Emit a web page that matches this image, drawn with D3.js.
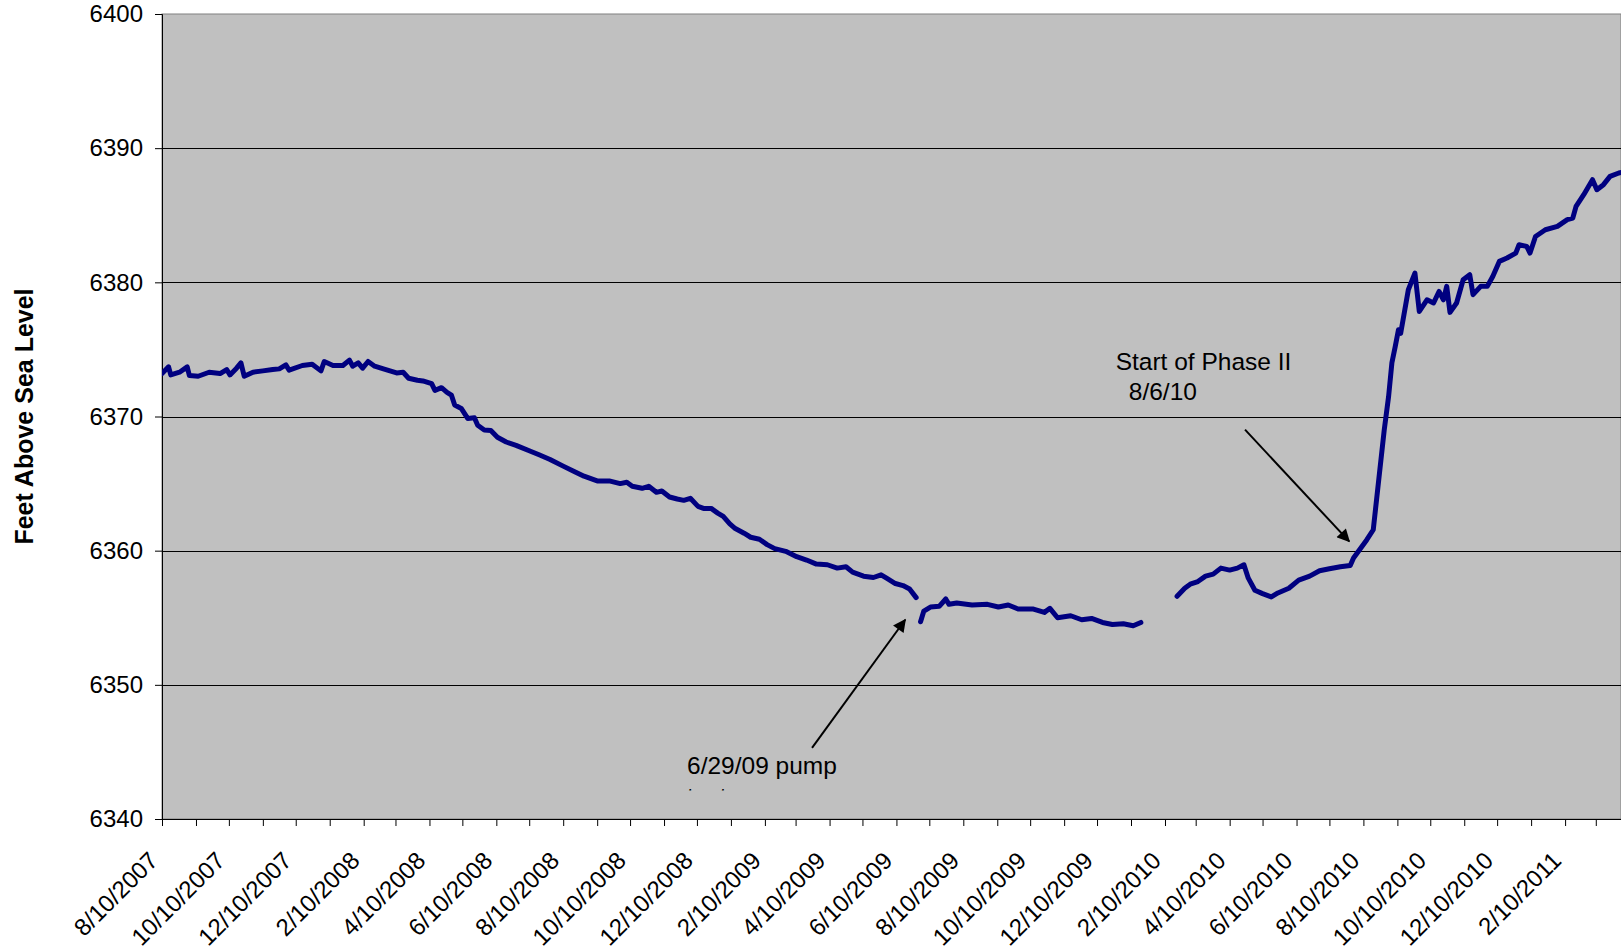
<!DOCTYPE html>
<html>
<head>
<meta charset="utf-8">
<script src="https://cdn.jsdelivr.net/npm/d3@7"></script>
<style>
    body { margin: 0; background: #ffffff; }
    svg { display: block; font-family: "Liberation Sans", Arial, sans-serif; }
</style>
</head>
<body>
<div id="chart"></div>
<script>
// water level readings, null = no data (gaps in the record)
const readingDates = [
    "2007-08-10", "2007-08-16", "2007-08-18", "2007-08-26", "2007-09-02", "2007-09-04",
    "2007-09-12", "2007-09-22", "2007-10-02", "2007-10-08", "2007-10-11", "2007-10-17",
    "2007-10-21", "2007-10-24", "2007-11-01", "2007-11-10", "2007-11-19", "2007-11-25",
    "2007-12-01", "2007-12-04", "2007-12-16", "2007-12-25", "2008-01-02", "2008-01-05",
    "2008-01-13", "2008-01-22", "2008-01-28", "2008-01-31", "2008-02-05", "2008-02-09",
    "2008-02-14", "2008-02-20", "2008-02-28", "2008-03-05", "2008-03-11", "2008-03-17",
    "2008-03-22", "2008-03-30", "2008-04-04", "2008-04-12", "2008-04-15", "2008-04-21",
    "2008-04-26", "2008-04-30", "2008-05-03", "2008-05-09", "2008-05-15", "2008-05-21",
    "2008-05-24", "2008-05-30", "2008-06-05", "2008-06-11", "2008-06-19", "2008-06-28",
    "2008-07-10", "2008-07-19", "2008-07-29", "2008-08-10", "2008-08-20", "2008-08-29",
    "2008-09-10", "2008-09-21", "2008-10-01", "2008-10-07", "2008-10-12", "2008-10-21",
    "2008-10-27", "2008-11-03", "2008-11-08", "2008-11-15", "2008-11-22", "2008-11-28",
    "2008-12-04", "2008-12-11", "2008-12-16", "2008-12-23", "2008-12-29", "2009-01-03",
    "2009-01-09", "2009-01-14", "2009-01-22", "2009-01-28", "2009-02-05", "2009-02-12",
    "2009-02-19", "2009-03-01", "2009-03-11", "2009-03-20", "2009-03-29", "2009-04-08",
    "2009-04-17", "2009-04-25", "2009-05-01", "2009-05-11", "2009-05-20", "2009-05-27",
    "2009-06-01", "2009-06-09", "2009-06-16", "2009-06-22", "2009-06-28", "2009-06-30",
    "2009-07-02", "2009-07-05", "2009-07-11", "2009-07-19", "2009-07-25", "2009-07-28",
    "2009-08-04", "2009-08-18", "2009-09-01", "2009-09-11", "2009-09-20", "2009-09-29",
    "2009-10-13", "2009-10-23", "2009-10-28", "2009-11-04", "2009-11-16", "2009-11-26",
    "2009-12-05", "2009-12-15", "2009-12-24", "2010-01-03", "2010-01-12", "2010-01-19",
    "2010-02-01", "2010-02-21", "2010-02-28", "2010-03-05", "2010-03-12", "2010-03-19",
    "2010-03-26", "2010-04-02", "2010-04-10", "2010-04-17", "2010-04-23", "2010-04-27",
    "2010-05-03", "2010-05-10", "2010-05-18", "2010-05-24", "2010-06-03", "2010-06-12",
    "2010-06-22", "2010-07-01", "2010-07-10", "2010-07-20", "2010-07-29", "2010-08-01",
    "2010-08-13", "2010-08-19", "2010-08-24", "2010-08-29", "2010-09-02", "2010-09-05",
    "2010-09-08", "2010-09-11", "2010-09-13", "2010-09-20", "2010-09-26", "2010-09-30",
    "2010-10-07", "2010-10-13", "2010-10-18", "2010-10-22", "2010-10-25", "2010-10-28",
    "2010-11-03", "2010-11-09", "2010-11-15", "2010-11-18", "2010-11-25", "2010-12-01",
    "2010-12-06", "2010-12-12", "2010-12-19", "2010-12-27", "2010-12-30", "2011-01-06",
    "2011-01-09", "2011-01-14", "2011-01-23", "2011-02-03", "2011-02-12", "2011-02-17",
    "2011-02-20", "2011-02-27", "2011-03-07", "2011-03-11", "2011-03-17", "2011-03-23",
    "2011-03-31", "2011-04-03"
];
const levels = [
    6373.2, 6373.7, 6373.1, 6373.3, 6373.7, 6373.05,
    6373.0, 6373.3, 6373.2, 6373.5, 6373.1, 6373.6,
    6374.0, 6373.0, 6373.3, 6373.4, 6373.5, 6373.55,
    6373.85, 6373.45, 6373.8, 6373.9, 6373.4, 6374.1,
    6373.8, 6373.8, 6374.2, 6373.75, 6374.0, 6373.6,
    6374.1, 6373.75, 6373.55, 6373.4, 6373.25, 6373.3,
    6372.85, 6372.7, 6372.65, 6372.45, 6371.95, 6372.15,
    6371.8, 6371.6, 6370.85, 6370.6, 6369.85, 6369.9,
    6369.35, 6369.0, 6368.95, 6368.45, 6368.1, 6367.85,
    6367.45, 6367.15, 6366.8, 6366.3, 6365.9, 6365.55,
    6365.2, 6365.2, 6365.0, 6365.1, 6364.8, 6364.65,
    6364.8, 6364.35, 6364.45, 6364.0, 6363.85, 6363.75,
    6363.9, 6363.3, 6363.15, 6363.15, 6362.8, 6362.55,
    6362.0, 6361.65, 6361.3, 6361.0, 6360.85, 6360.45,
    6360.15, 6359.95, 6359.55, 6359.3, 6359.0, 6358.95,
    6358.7, 6358.8, 6358.4, 6358.1, 6358.0, 6358.2,
    6357.95, 6357.55, 6357.4, 6357.15, 6356.5, null,
    6354.7, 6355.5, 6355.8, 6355.85, 6356.4, 6356.0,
    6356.1, 6355.95, 6356.0, 6355.8, 6355.95, 6355.65,
    6355.65, 6355.4, 6355.7, 6355.0, 6355.15, 6354.85,
    6354.95, 6354.65, 6354.5, 6354.55, 6354.4, 6354.65,
    null, 6356.6, 6357.2, 6357.5, 6357.7, 6358.1,
    6358.25, 6358.7, 6358.55, 6358.7, 6358.95, 6357.95,
    6357.05, 6356.8, 6356.55, 6356.85, 6357.2, 6357.8,
    6358.1, 6358.5, 6358.65, 6358.8, 6358.9, 6359.45,
    6360.8, 6361.56, 6365.29, 6369.0, 6371.5, 6374.0,
    6375.2, 6376.47, 6376.2, 6379.45, 6380.69, 6377.83,
    6378.7, 6378.46, 6379.32, 6378.7, 6379.7, 6377.76,
    6378.46, 6380.19, 6380.57, 6379.08, 6379.7, 6379.7,
    6380.44, 6381.56, 6381.81, 6382.18, 6382.8, 6382.68,
    6382.18, 6383.42, 6383.92, 6384.17, 6384.67, 6384.79,
    6385.66, 6386.53, 6387.65, 6386.9, 6387.28, 6387.9,
    6388.15, 6388.2
];

const yTicks = [6340, 6350, 6360, 6370, 6380, 6390, 6400];
const xTickLabels = [
    "8/10/2007", "10/10/2007", "12/10/2007", "2/10/2008", "4/10/2008", "6/10/2008",
    "8/10/2008", "10/10/2008", "12/10/2008", "2/10/2009", "4/10/2009", "6/10/2009",
    "8/10/2009", "10/10/2009", "12/10/2009", "2/10/2010", "4/10/2010", "6/10/2010",
    "8/10/2010", "10/10/2010", "12/10/2010", "2/10/2011"
];

// callouts, anchored in data space
const pumpNote = {
    lines: ["6/29/09 pump", "test"],
    textAt: ["2008-12-01", 6343.35],
    arrowFrom: ["2009-03-25", 6345.3],
    arrowTo: ["2009-06-18", 6354.85]
};
const phaseNote = {
    lines: ["Start of Phase II", "8/6/10"],
    textAt: ["2009-12-27", 6373.44],
    secondLineAt: ["2010-01-08", 6371.25],
    arrowFrom: ["2010-04-24", 6369.02],
    arrowTo: ["2010-07-28", 6360.69]
};

const width = 1621;
const height = 948;
const plot = {left: 162, top: 14, right: 1621, bottom: 819};

const parseIso = d3.timeParse("%Y-%m-%d");
const parseLabel = d3.timeParse("%m/%d/%Y");

const data = readingDates.map(function (d, i) {
    return {date: parseIso(d), level: levels[i]};
});

const firstTick = parseLabel(xTickLabels[0]);
const monthTicks = d3.range(0, 44).map(function (i) {
    return d3.timeMonth.offset(firstTick, i);
});
const labelSet = new Set(xTickLabels);
const fmtLabel = function (d) {
    return (d.getMonth() + 1) + "/" + d.getDate() + "/" + d.getFullYear();
};

const xScale = d3.scaleTime()
    .domain([firstTick, new Date(2011, 3, 2)])
    .range([plot.left, plot.right]);

const yScale = d3.scaleLinear()
    .domain([yTicks[0], yTicks[yTicks.length - 1]])
    .range([plot.bottom, plot.top]);

const svg = d3.select("#chart")
    .append("svg")
    .attr("width", width)
    .attr("height", height);

const defs = svg.append("defs");
defs.append("clipPath")
    .attr("id", "plotClip")
    .append("rect")
    .attr("x", plot.left)
    .attr("y", plot.top)
    .attr("width", plot.right - plot.left)
    .attr("height", plot.bottom - plot.top);

defs.append("marker")
    .attr("id", "arrowHead")
    .attr("viewBox", "0 0 10 10")
    .attr("refX", 9)
    .attr("refY", 5)
    .attr("markerWidth", 16)
    .attr("markerHeight", 13)
    .attr("markerUnits", "userSpaceOnUse")
    .attr("orient", "auto")
    .append("path")
    .attr("d", "M0,0L10,5L0,10z")
    .attr("fill", "#000000");

// plot area background
svg.append("rect")
    .attr("x", plot.left)
    .attr("y", plot.top)
    .attr("width", plot.right - plot.left)
    .attr("height", plot.bottom - plot.top)
    .attr("fill", "#c0c0c0")
    .attr("stroke", "#808080")
    .attr("stroke-width", 1);

// horizontal grid lines
svg.append("g")
    .attr("class", "grid")
    .selectAll("line")
    .data(yTicks.slice(1, -1))
    .enter()
    .append("line")
    .attr("x1", plot.left)
    .attr("x2", plot.right)
    .attr("y1", function (d) { return Math.round(yScale(d)) + 0.5; })
    .attr("y2", function (d) { return Math.round(yScale(d)) + 0.5; })
    .attr("stroke", "#000000")
    .attr("stroke-width", 1);

// y axis
const yAxis = svg.append("g")
    .attr("transform", "translate(" + plot.left + ",0)")
    .call(d3.axisLeft(yScale)
        .tickValues(yTicks)
        .tickSize(7)
        .tickPadding(12)
        .tickFormat(d3.format("d")));
yAxis.selectAll("text")
    .attr("font-size", "24px")
    .attr("font-family", "Liberation Sans, Arial, sans-serif")
    .attr("fill", "#000000");
yAxis.select(".domain").attr("stroke", "#000000");

// x axis: a tick every month, a label every other month
const xAxis = svg.append("g")
    .attr("transform", "translate(0," + plot.bottom + ")")
    .call(d3.axisBottom(xScale)
        .tickValues(monthTicks)
        .tickSize(7)
        .tickSizeOuter(0)
        .tickFormat(function (d) {
            const s = fmtLabel(d);
            return labelSet.has(s) ? s : "";
        }));
xAxis.selectAll("text")
    .attr("font-size", "24px")
    .attr("font-family", "Liberation Sans, Arial, sans-serif")
    .attr("fill", "#000000")
    .attr("x", 0)
    .attr("y", 0)
    .attr("dy", 0)
    .attr("text-anchor", "end")
    .attr("transform", "translate(-3,43) rotate(-45)");
xAxis.select(".domain").attr("stroke", "#000000");

// the water level line
const line = d3.line()
    .defined(function (d) { return d.level !== null; })
    .x(function (d) { return xScale(d.date); })
    .y(function (d) { return yScale(d.level); });

svg.append("path")
    .datum(data)
    .attr("clip-path", "url(#plotClip)")
    .attr("d", line)
    .attr("fill", "none")
    .attr("stroke", "#000080")
    .attr("stroke-width", 5)
    .attr("stroke-linejoin", "round")
    .attr("stroke-linecap", "round");

// y axis title
svg.append("text")
    .attr("transform", "translate(33," + ((plot.top + plot.bottom) / 2) + ") rotate(-90)")
    .attr("text-anchor", "middle")
    .attr("font-size", "25px")
    .attr("font-weight", "bold")
    .text("Feet Above Sea Level");

function pt(p) {
    return [xScale(parseIso(p[0])), yScale(p[1])];
}

function drawArrow(note) {
    const a = pt(note.arrowFrom);
    const b = pt(note.arrowTo);
    svg.append("line")
        .attr("x1", a[0]).attr("y1", a[1])
        .attr("x2", b[0]).attr("y2", b[1])
        .attr("stroke", "#000000")
        .attr("stroke-width", 2)
        .attr("marker-end", "url(#arrowHead)");
}

// pump callout: its second line is cut off by the text box
const pumpPos = pt(pumpNote.textAt);
defs.append("clipPath")
    .attr("id", "pumpClip")
    .append("rect")
    .attr("x", pumpPos[0] - 5)
    .attr("y", pumpPos[1] - 30)
    .attr("width", 200)
    .attr("height", 46.5);
const pumpText = svg.append("text")
    .attr("clip-path", "url(#pumpClip)")
    .attr("font-size", "24.5px")
    .attr("fill", "#000000");
pumpText.selectAll("tspan")
    .data(pumpNote.lines)
    .enter()
    .append("tspan")
    .attr("x", pumpPos[0])
    .attr("y", function (d, i) { return pumpPos[1] + i * 31; })
    .text(function (d) { return d; });
drawArrow(pumpNote);

// phase II callout
const phasePos = pt(phaseNote.textAt);
const phasePos2 = pt(phaseNote.secondLineAt);
svg.append("text")
    .attr("x", phasePos[0])
    .attr("y", phasePos[1])
    .attr("font-size", "24.5px")
    .text(phaseNote.lines[0]);
svg.append("text")
    .attr("x", phasePos2[0])
    .attr("y", phasePos2[1])
    .attr("font-size", "24.5px")
    .text(phaseNote.lines[1]);
drawArrow(phaseNote);
</script>
</body>
</html>
